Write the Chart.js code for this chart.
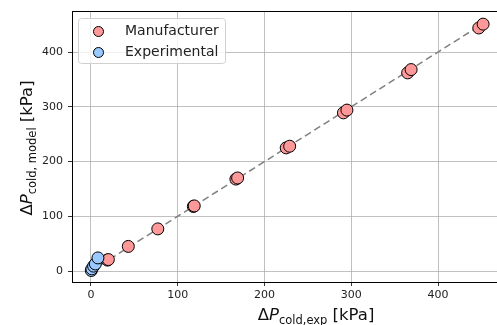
<!DOCTYPE html>
<html lang="en">
<head>
<meta charset="UTF-8">
<title>Cold-side pressure drop: model vs experiment</title>
<script src="https://cdn.jsdelivr.net/npm/chart.js"></script>
<style>
    html, body { margin: 0; padding: 0; background: #fff; overflow: hidden; }
</style>
</head>
<body>
<canvas id="chart" width="497" height="325"></canvas>
<script>
// values (kPa)
const manufacturerExp   = [19, 20, 43, 77, 118, 119, 167, 169, 225, 229, 291, 295, 365, 369, 447, 452];
const manufacturerModel = [20, 21, 45, 77, 118, 119, 168, 170, 225, 228, 289, 294, 362, 368, 444, 451];
const experimentalExp   = [0.3, 1, 3, 5, 8];
const experimentalModel = [1, 4, 9, 13, 24];
const parityLine = [0, 453];
const xTicks = [0, 100, 200, 300, 400];
const yTicks = [0, 100, 200, 300, 400];

const FONT = "'DejaVu Sans', sans-serif";

function toPoints(xs, ys) {
    return xs.map((x, i) => ({ x: x, y: ys[i] }));
}

// draws text like  ΔP_{sub} [kPa]  centred on (cx, cy); rotated if vertical
function drawAxisLabel(ctx, sub, cx, cy, vertical) {
    let parts = [
        { text: 'Δ', font: '16.5px ' + FONT, dy: 0 },
        { text: 'P', font: 'italic 16.5px ' + FONT, dy: 0 },
        { text: sub, font: '11.5px ' + FONT, dy: 4 },
        { text: ' [kPa]', font: '16.5px ' + FONT, dy: 0 }
    ];
    ctx.save();
    let total = 0;
    parts.forEach(p => { ctx.font = p.font; p.w = ctx.measureText(p.text).width; total += p.w; });
    ctx.translate(cx, cy);
    if (vertical) ctx.rotate(-Math.PI / 2);
    ctx.fillStyle = '#111';
    ctx.textBaseline = 'alphabetic';
    ctx.textAlign = 'left';
    let x = -total / 2;
    parts.forEach(p => {
        ctx.font = p.font;
        ctx.fillText(p.text, x, 6 + p.dy);
        x += p.w;
    });
    ctx.restore();
}

const extras = {
    id: 'extras',
    beforeDatasetsDraw(chart) {
        // top spine
        let ctx = chart.ctx, a = chart.chartArea;
        ctx.save();
        ctx.strokeStyle = '#000';
        ctx.lineWidth = 1;
        ctx.beginPath();
        ctx.moveTo(a.left, a.top + 0.5);
        ctx.lineTo(a.right, a.top + 0.5);
        ctx.stroke();
        ctx.restore();
    },
    afterDraw(chart) {
        let ctx = chart.ctx;

        // legend box
        ctx.save();
        let bx = 78.5, by = 18.5, bw = 147, bh = 45;
        ctx.beginPath();
        ctx.roundRect(bx, by, bw, bh, 3);
        ctx.fillStyle = 'rgba(255,255,255,0.8)';
        ctx.fill();
        ctx.strokeStyle = '#d0d0d0';
        ctx.lineWidth = 1;
        ctx.stroke();

        let items = [
            { label: 'Manufacturer', color: chart.data.datasets[0].backgroundColor, y: 31.5 },
            { label: 'Experimental', color: chart.data.datasets[1].backgroundColor, y: 52.5 }
        ];
        items.forEach(it => {
            ctx.beginPath();
            ctx.arc(98.5, it.y, 5, 0, Math.PI * 2);
            ctx.fillStyle = it.color;
            ctx.fill();
            ctx.strokeStyle = '#000';
            ctx.stroke();
            ctx.fillStyle = '#222';
            ctx.font = '14px ' + FONT;
            ctx.textBaseline = 'middle';
            ctx.fillText(it.label, 125, it.y);
        });
        ctx.restore();

        // axis titles
        drawAxisLabel(ctx, 'cold,exp', 316, 314, false);
        drawAxisLabel(ctx, 'cold, model', 26, 148, true);
    }
};

new Chart(document.getElementById('chart'), {
    type: 'scatter',
    data: {
        datasets: [{
            label: 'Manufacturer',
            data: toPoints(manufacturerExp, manufacturerModel),
            backgroundColor: '#ff9999',
            borderColor: '#000',
            borderWidth: 1,
            pointRadius: 6,
            pointHoverRadius: 6,
            order: 2
        }, {
            label: 'Experimental',
            data: toPoints(experimentalExp, experimentalModel),
            backgroundColor: '#99c9ff',
            borderColor: '#000',
            borderWidth: 1,
            pointRadius: 6,
            pointHoverRadius: 6,
            order: 1
        }, {
            label: 'parity',
            data: toPoints(parityLine, parityLine),
            showLine: true,
            borderColor: '#808080',
            borderWidth: 1.5,
            borderDash: [7, 4],
            pointRadius: 0,
            order: 5
        }]
    },
    options: {
        responsive: false,
        animation: false,
        layout: { autoPadding: false, padding: { top: 11, right: 0, left: 0, bottom: 0 } },
        plugins: {
            legend: { display: false },
            tooltip: { enabled: false }
        },
        scales: {
            x: {
                type: 'linear',
                min: -21.9,
                max: 468,
                afterBuildTicks: s => { s.ticks = xTicks.map(v => ({ value: v })); },
                afterFit: s => { s.height = 43; s.paddingLeft = 0; s.paddingRight = 0; },
                grid: { color: '#b0b0b0', lineWidth: 0.8, tickLength: 4, tickColor: '#000' },
                border: { color: '#000', width: 1 },
                ticks: { font: { family: FONT, size: 11 }, color: '#222', padding: 3, maxRotation: 0 }
            },
            y: {
                type: 'linear',
                min: -20,
                max: 475,
                afterBuildTicks: s => { s.ticks = yTicks.map(v => ({ value: v })); },
                afterFit: s => { s.width = 72; s.paddingTop = 0; s.paddingBottom = 0; },
                grid: { color: '#b0b0b0', lineWidth: 0.8, tickLength: 4, tickColor: '#000' },
                border: { color: '#000', width: 1 },
                ticks: { font: { family: FONT, size: 11 }, color: '#222', padding: 5 }
            }
        }
    },
    plugins: [extras]
});
</script>
</body>
</html>
